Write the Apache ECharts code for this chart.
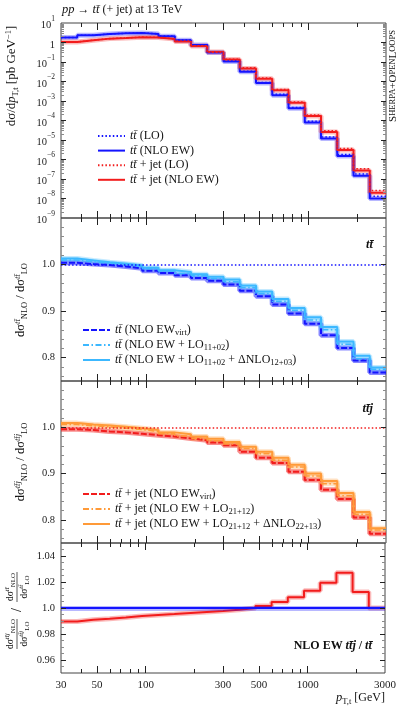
<!DOCTYPE html>
<html>
<head>
<meta charset="utf-8">
<title>top pT spectrum</title>
<script src="https://cdn.jsdelivr.net/npm/echarts@6/dist/echarts.min.js"></script>
<style>
html, body { margin: 0; padding: 0; background: #fff; }
#chart { width: 399px; height: 707px; }
</style>
</head>
<body>
<div id="chart"></div>
<script>
// bin edges of p_T,t in GeV (20 log bins)
const binEdges = [30, 37.8, 47.5, 59.9, 75.4, 94.9, 119.4, 150.4, 189.3, 238.3, 300,
  377.7, 475.5, 598.6, 753.6, 948.7, 1194.3, 1503.6, 1892.9, 2383.0, 3000];

// dsigma/dpT in pb/GeV
const ttLO = [1.79, 2.35, 2.75, 2.97, 3.12, 2.79, 2.14, 1.33, 0.77, 0.32, 0.112, 0.034, 0.0089, 0.0022, 4.7e-4, 9.2e-5, 1.42e-5, 1.83e-6, 1.83e-7, 1.3e-8];
const ttNLO = [1.8, 2.35, 2.75, 2.96, 3.1, 2.75, 2.1, 1.3, 0.75, 0.31, 0.107, 0.032, 0.0083, 0.002, 4.2e-4, 8.0e-5, 1.2e-5, 1.5e-6, 1.45e-7, 1.0e-8];
const ttjLO = [1.07, 1.31, 1.59, 1.72, 1.89, 1.83, 1.53, 1.15, 0.68, 0.34, 0.139, 0.050, 0.015, 0.0039, 9.0e-4, 1.92e-4, 3.0e-5, 3.7e-6, 3.35e-7, 2.6e-8];
const ttjNLO = [1.07, 1.3, 1.58, 1.7, 1.86, 1.8, 1.5, 1.12, 0.66, 0.33, 0.134, 0.047, 0.014, 0.0036, 8.1e-4, 1.7e-4, 2.6e-5, 3.1e-6, 2.7e-7, 2.0e-8];

// tt ratios NLO/LO
const ttVirt = [1.004, 1.001, 0.999, 0.996, 0.992, 0.987, 0.982, 0.977, 0.971, 0.965, 0.957, 0.944, 0.932, 0.914, 0.895, 0.873, 0.848, 0.821, 0.794, 0.768];
const ttLOmix = [1.010, 1.006, 1.003, 1.000, 0.996, 0.991, 0.986, 0.981, 0.976, 0.970, 0.963, 0.951, 0.938, 0.921, 0.902, 0.881, 0.860, 0.829, 0.798, 0.775];
const ttFull = [1.013, 1.009, 1.005, 1.002, 0.998, 0.993, 0.988, 0.984, 0.979, 0.974, 0.968, 0.955, 0.942, 0.926, 0.907, 0.887, 0.866, 0.835, 0.804, 0.779];

// ttj ratios NLO/LO
const ttjVirt = [0.996, 0.994, 0.991, 0.989, 0.986, 0.983, 0.980, 0.976, 0.972, 0.967, 0.961, 0.947, 0.934, 0.923, 0.904, 0.886, 0.865, 0.845, 0.805, 0.770];
const ttjLOmix = [1.006, 1.003, 1.001, 0.998, 0.995, 0.991, 0.986, 0.981, 0.976, 0.971, 0.964, 0.954, 0.943, 0.929, 0.914, 0.895, 0.878, 0.852, 0.812, 0.778];
const ttjFull = [1.009, 1.006, 1.004, 1.001, 0.998, 0.994, 0.989, 0.985, 0.980, 0.975, 0.968, 0.958, 0.947, 0.934, 0.919, 0.900, 0.884, 0.858, 0.817, 0.782];

// (ttj NLO/LO) / (tt NLO/LO)
const doubleRatio = [0.9896, 0.991, 0.9917, 0.9927, 0.9938, 0.9946, 0.9953, 0.9961, 0.9969, 0.9977, 0.9987, 1.000, 1.0016, 1.0047, 1.0082, 1.0132, 1.0194, 1.0271, 1.0124, 1.000];

const xMajor = [30, 50, 100, 300, 500, 1000, 3000];
const xMinor = [40, 60, 70, 80, 90, 200, 400, 600, 700, 800, 900, 2000];
const yMainMajor = [-9, -8, -7, -6, -5, -4, -3, -2, -1, 0, 1];
const yRatioMajor = [0.8, 0.9, 1.0];
const yDoubleMajor = [0.96, 0.98, 1.0, 1.02, 1.04];

const F = 'Liberation Serif';
const TT = 'tt\u0304';
const BLUE = '#1414ff', RED = '#f21c1c', LBLUE = '#3cb8ff', ORANGE = '#ff9a38';
const TICK = '#222', MINOR = '#8a8a8a';
const lg = Math.log10;
const XMIN = lg(30), XMAX = lg(3000);

const yMainMinor = [];
for (let d = -9; d < 1; d++) for (let k = 2; k <= 9; k++) yMainMinor.push(d + lg(k));
const yRatioMinor = [];
for (let k = 38; k <= 55; k++) if (k % 5 !== 0) yRatioMinor.push(k * 0.02);
const yDoubleMinor = [];
for (let k = 191; k <= 209; k++) if (k % 4 !== 0) yDoubleMinor.push(k * 0.005);

const grids = [
  { left: 61, right: 13, top: 23, height: 195 },
  { left: 61, right: 13, top: 218, height: 163 },
  { left: 61, right: 13, top: 381, height: 162 },
  { left: 61, right: 13, top: 543, height: 130 }
].map(g => Object.assign(g, { show: true, borderColor: '#444', borderWidth: 1 }));
const plotWidth = 399 - 61 - 13;

const supRich = {
  b: { fontFamily: F, fontSize: 10.5, lineHeight: 16, verticalAlign: 'bottom', color: '#222' },
  e: { fontFamily: F, fontSize: 7.5, lineHeight: 8, verticalAlign: 'top', color: '#222' }
};

const panels = [
  { min: -9, max: 1, major: yMainMajor, minor: yMainMinor,
    fmt: v => v === 0 ? '{b|1}' : '{b|10}{e|' + (v < 0 ? '\u2212' : '') + Math.abs(v) + '}' },
  { min: 0.75, max: 1.1, major: yRatioMajor, minor: yRatioMinor, fmt: v => v.toFixed(1) },
  { min: 0.75, max: 1.1, major: yRatioMajor, minor: yRatioMinor, fmt: v => v.toFixed(1) },
  { min: 0.95, max: 1.05, major: yDoubleMajor, minor: yDoubleMinor,
    fmt: v => Math.abs(v - 1) < 1e-9 ? '1.0' : v.toFixed(2) }
];

// one x and one y axis per panel, used for the scale and the labels
const xAxes = grids.map((g, i) => ({
  type: 'value', gridIndex: i, position: 'bottom', min: XMIN, max: XMAX,
  axisLine: { show: false, onZero: false }, splitLine: { show: false }, axisTick: { show: false },
  axisLabel: i === 3 ? {
    show: true, customValues: xMajor.map(lg), margin: 7,
    formatter: v => String(Math.round(Math.pow(10, v))),
    fontFamily: F, fontSize: 11, color: '#222'
  } : { show: false }
}));
const yAxes = grids.map((g, i) => ({
  type: 'value', gridIndex: i, position: 'left', min: panels[i].min, max: panels[i].max,
  axisLine: { show: false, onZero: false }, splitLine: { show: false }, axisTick: { show: false },
  axisLabel: {
    show: true, customValues: panels[i].major, formatter: panels[i].fmt, margin: 6,
    fontFamily: F, fontSize: 10.5, color: '#222', rich: supRich
  }
}));

// tick marks drawn as short markLine segments in data coordinates, inside the frame
function seg(x1, y1, x2, y2, color) {
  const ls = { color, width: 1, type: 'solid', opacity: 1 };
  return [{ coord: [x1, y1], lineStyle: ls }, { coord: [x2, y2], lineStyle: ls }];
}
function tickSeries(i) {
  const p = panels[i];
  const dx = (XMAX - XMIN) / plotWidth;          // data units per px along x
  const dy = (p.max - p.min) / grids[i].height;  // data units per px along y
  const data = [];
  const xt = xMajor.map(v => [lg(v), 7]).concat(xMinor.map(v => [lg(v), 4]));
  xt.forEach(([x, len]) => {
    if (x <= XMIN + 1e-9 || x >= XMAX - 1e-9) return;
    data.push(seg(x, p.min, x, p.min + len * dy, TICK));
    data.push(seg(x, p.max, x, p.max - len * dy, TICK));
  });
  const yt = p.major.map(v => [v, 5, TICK]).concat(p.minor.map(v => [v, 3, MINOR]));
  yt.forEach(([y, len, col]) => {
    if (y <= p.min + 1e-9 || y >= p.max - 1e-9) return;
    data.push(seg(XMIN, y, XMIN + len * dx, y, col));
    data.push(seg(XMAX, y, XMAX - len * dx, y, col));
  });
  return {
    name: 'ticks' + i, type: 'line', xAxisIndex: i, yAxisIndex: i, silent: true, clip: false,
    data: [[(XMIN + XMAX) / 2, (p.min + p.max) / 2]], symbol: 'none', lineStyle: { opacity: 0 }, z: 5,
    markLine: { silent: true, symbol: 'none', label: { show: false }, animation: false, data }
  };
}

function histData(vals, tf) {
  const pts = vals.map((v, i) => [lg(binEdges[i]), tf(v)]);
  pts.push([lg(binEdges[vals.length]), tf(vals[vals.length - 1])]);
  return pts;
}
const ident = v => v;

let haloCount = 0;
function step(name, gi, vals, tf, color, width, type, z) {
  return {
    name, type: 'line', step: 'end', xAxisIndex: gi, yAxisIndex: gi,
    data: histData(vals, tf), symbol: 'none', silent: true, z: z || 3,
    lineStyle: { color, width, type: type || 'solid' }, itemStyle: { color }
  };
}
function halo(gi, vals, tf, color, op) {
  const s = step('halo' + (haloCount++), gi, vals, tf, color, 5, 'solid', 2);
  s.lineStyle.opacity = op || 0.3;
  return s;
}
function refLine(color, type, width, withHalo) {
  const data = [];
  if (withHalo) data.push({ yAxis: 1, lineStyle: { color, width: 5, opacity: 0.3, type: 'solid' } });
  data.push({ yAxis: 1, lineStyle: { color, width, type } });
  return { silent: true, symbol: 'none', label: { show: false }, animation: false, data };
}

const N = {
  ttLO: 'tt (LO)', ttNLO: 'tt (NLO EW)', ttjLO: 'ttj (LO)', ttjNLO: 'ttj (NLO EW)',
  ttV: 'tt virt', ttM: 'tt mix', ttF: 'tt full',
  ttjV: 'ttj virt', ttjM: 'ttj mix', ttjF: 'ttj full'
};
const legendText = {};
legendText[N.ttLO] = '{i|' + TT + '} (LO)';
legendText[N.ttNLO] = '{i|' + TT + '} (NLO EW)';
legendText[N.ttjLO] = '{i|' + TT + '} + jet (LO)';
legendText[N.ttjNLO] = '{i|' + TT + '} + jet (NLO EW)';
legendText[N.ttV] = '{i|' + TT + '} (NLO EW{s|virt})';
legendText[N.ttM] = '{i|' + TT + '} (NLO EW + LO{s|11+02})';
legendText[N.ttF] = '{i|' + TT + '} (NLO EW + LO{s|11+02} + \u0394NLO{s|12+03})';
legendText[N.ttjV] = '{i|' + TT + '} + jet (NLO EW{s|virt})';
legendText[N.ttjM] = '{i|' + TT + '} + jet (NLO EW + LO{s|21+12})';
legendText[N.ttjF] = '{i|' + TT + '} + jet (NLO EW + LO{s|21+12} + \u0394NLO{s|22+13})';

const DOT = [1.5, 2.2], DASH = [6, 2], DASHDOT = [6, 2.5, 1.5, 2.5];

const series = [
  // main spectrum
  halo(0, ttNLO, lg, BLUE), halo(0, ttjNLO, lg, RED),
  step(N.ttLO, 0, ttLO, lg, BLUE, 1.5, DOT, 4),
  step(N.ttNLO, 0, ttNLO, lg, BLUE, 2),
  step(N.ttjLO, 0, ttjLO, lg, RED, 1.5, DOT, 4),
  step(N.ttjNLO, 0, ttjNLO, lg, RED, 2),
  // tt ratio
  halo(1, ttVirt, ident, BLUE, 0.5), halo(1, ttFull, ident, LBLUE), halo(1, ttLOmix, ident, LBLUE),
  Object.assign(step(N.ttV, 1, ttVirt, ident, BLUE, 2, DASH), { markLine: refLine(BLUE, DOT, 1.5) }),
  step(N.ttM, 1, ttLOmix, ident, LBLUE, 1.5, DASHDOT),
  step(N.ttF, 1, ttFull, ident, LBLUE, 2),
  // ttj ratio
  halo(2, ttjVirt, ident, RED, 0.5), halo(2, ttjFull, ident, ORANGE), halo(2, ttjLOmix, ident, ORANGE),
  Object.assign(step(N.ttjV, 2, ttjVirt, ident, RED, 2, DASH), { markLine: refLine(RED, DOT, 1.5) }),
  step(N.ttjM, 2, ttjLOmix, ident, ORANGE, 1.5, DASHDOT),
  step(N.ttjF, 2, ttjFull, ident, ORANGE, 2),
  // double ratio
  Object.assign(halo(3, doubleRatio, ident, RED), { markLine: refLine(BLUE, 'solid', 2, true) }),
  step('double', 3, doubleRatio, ident, RED, 2, 'solid', 4)
].concat([0, 1, 2, 3].map(tickSeries));

const legendRich = {
  i: { fontFamily: F, fontStyle: 'italic', fontSize: 12, lineHeight: 14 },
  s: { fontFamily: F, fontSize: 8.5, lineHeight: 9, verticalAlign: 'bottom' }
};
function legendDef(names, left, top, gap) {
  return {
    orient: 'vertical', left, top, itemWidth: 27, itemHeight: 10, itemGap: gap,
    selectedMode: false, data: names,
    itemStyle: { opacity: 0, borderWidth: 0 },
    formatter: n => legendText[n],
    textStyle: { fontFamily: F, fontSize: 12, lineHeight: 14, color: '#111', rich: legendRich }
  };
}

const txtRich = {
  i: { fontFamily: F, fontStyle: 'italic', fontSize: 12.5, lineHeight: 16 },
  bi: { fontFamily: F, fontStyle: 'italic', fontWeight: 'bold', fontSize: 12.5, lineHeight: 16 },
  b: { fontFamily: F, fontWeight: 'bold', fontSize: 12, lineHeight: 16 },
  s: { fontFamily: F, fontSize: 8.5, lineHeight: 9, verticalAlign: 'bottom' },
  e: { fontFamily: F, fontSize: 8.5, lineHeight: 9, verticalAlign: 'top' },
  ei: { fontFamily: F, fontStyle: 'italic', fontSize: 8.5, lineHeight: 9, verticalAlign: 'top' },
  sc: { fontFamily: F, fontSize: 8.5, lineHeight: 12 }
};
function txt(x, y, text, opts) {
  return Object.assign({
    type: 'text', x, y, silent: true,
    style: Object.assign({ text, fill: '#111', font: '11.5px ' + F, align: 'left', verticalAlign: 'middle', rich: txtRich, lineHeight: 16 }, opts && opts.style)
  }, opts && opts.el);
}
function frac(cx, sup, num, den) {
  const fr = {
    sp: { fontFamily: F, fontStyle: 'italic', fontSize: 7, lineHeight: 6, verticalAlign: 'top' },
    sb: { fontFamily: F, fontSize: 7, lineHeight: 6, verticalAlign: 'bottom' }
  };
  const font = '9.5px ' + F;
  return [
    { type: 'text', x: cx, y: -6.5, silent: true, style: { text: 'd\u03c3{sp|' + sup + '}{sb|' + num + '}', font, align: 'center', verticalAlign: 'middle', fill: '#111', rich: fr, lineHeight: 13 } },
    { type: 'line', silent: true, shape: { x1: cx - 15, y1: 0, x2: cx + 15, y2: 0 }, style: { stroke: '#111', lineWidth: 0.7 } },
    { type: 'text', x: cx, y: 7, silent: true, style: { text: 'd\u03c3{sp|' + sup + '}{sb|' + den + '}', font, align: 'center', verticalAlign: 'middle', fill: '#111', rich: fr, lineHeight: 13 } }
  ];
}

const graphics = [
  txt(62, 10, '{i|pp} \u2192 {i|' + TT + '} (+ jet) at 13 TeV', { style: { font: '12px ' + F } }),
  txt(12, 76, 'd\u03c3/d{i|p}{s|T,t} [pb GeV{e|\u22121}]', { style: { align: 'center', font: '13px ' + F }, el: { rotation: Math.PI / 2 } }),
  txt(393, 76, 'S{sc|HERPA}+O{sc|PEN}L{sc|OOPS}', { style: { align: 'center', font: '11px ' + F }, el: { rotation: Math.PI / 2 } }),
  txt(21, 300, 'd\u03c3{ei|' + TT + '}{s|NLO} / d\u03c3{ei|' + TT + '}{s|LO}', { style: { align: 'center', font: '12.5px ' + F }, el: { rotation: Math.PI / 2 } }),
  txt(21, 462, 'd\u03c3{ei|' + TT + 'j}{s|NLO} / d\u03c3{ei|' + TT + 'j}{s|LO}', { style: { align: 'center', font: '12.5px ' + F }, el: { rotation: Math.PI / 2 } }),
  txt(373, 245, '{bi|' + TT + '}', { style: { align: 'right' } }),
  txt(373, 409, '{bi|' + TT + 'j}', { style: { align: 'right' } }),
  txt(372, 646, '{b|NLO EW} {bi|' + TT + 'j} {b|/} {bi|' + TT + '}', { style: { align: 'right' } }),
  txt(385, 698, '{i|p}{s|T,t} [GeV]', { style: { align: 'right', font: '12px ' + F } }),
  {
    type: 'group', x: 17, y: 610, rotation: Math.PI / 2, silent: true,
    children: frac(-24, TT + 'j', 'NLO', 'LO').concat(
      [{ type: 'text', x: 0, y: 0, silent: true, style: { text: '/', font: '14px ' + F, align: 'center', verticalAlign: 'middle', fill: '#111' } }],
      frac(23, TT, 'NLO', 'LO'))
  }
];

const chart = echarts.init(document.getElementById('chart'));
chart.setOption({
  animation: false,
  backgroundColor: '#fff',
  grid: grids,
  xAxis: xAxes,
  yAxis: yAxes,
  legend: [
    legendDef([N.ttLO, N.ttNLO, N.ttjLO, N.ttjNLO], 92, 124, 0.6),
    legendDef([N.ttV, N.ttM, N.ttF], 77, 318, 1),
    legendDef([N.ttjV, N.ttjM, N.ttjF], 77, 482, 1)
  ],
  series,
  graphic: { elements: graphics }
});
</script>
</body>
</html>
